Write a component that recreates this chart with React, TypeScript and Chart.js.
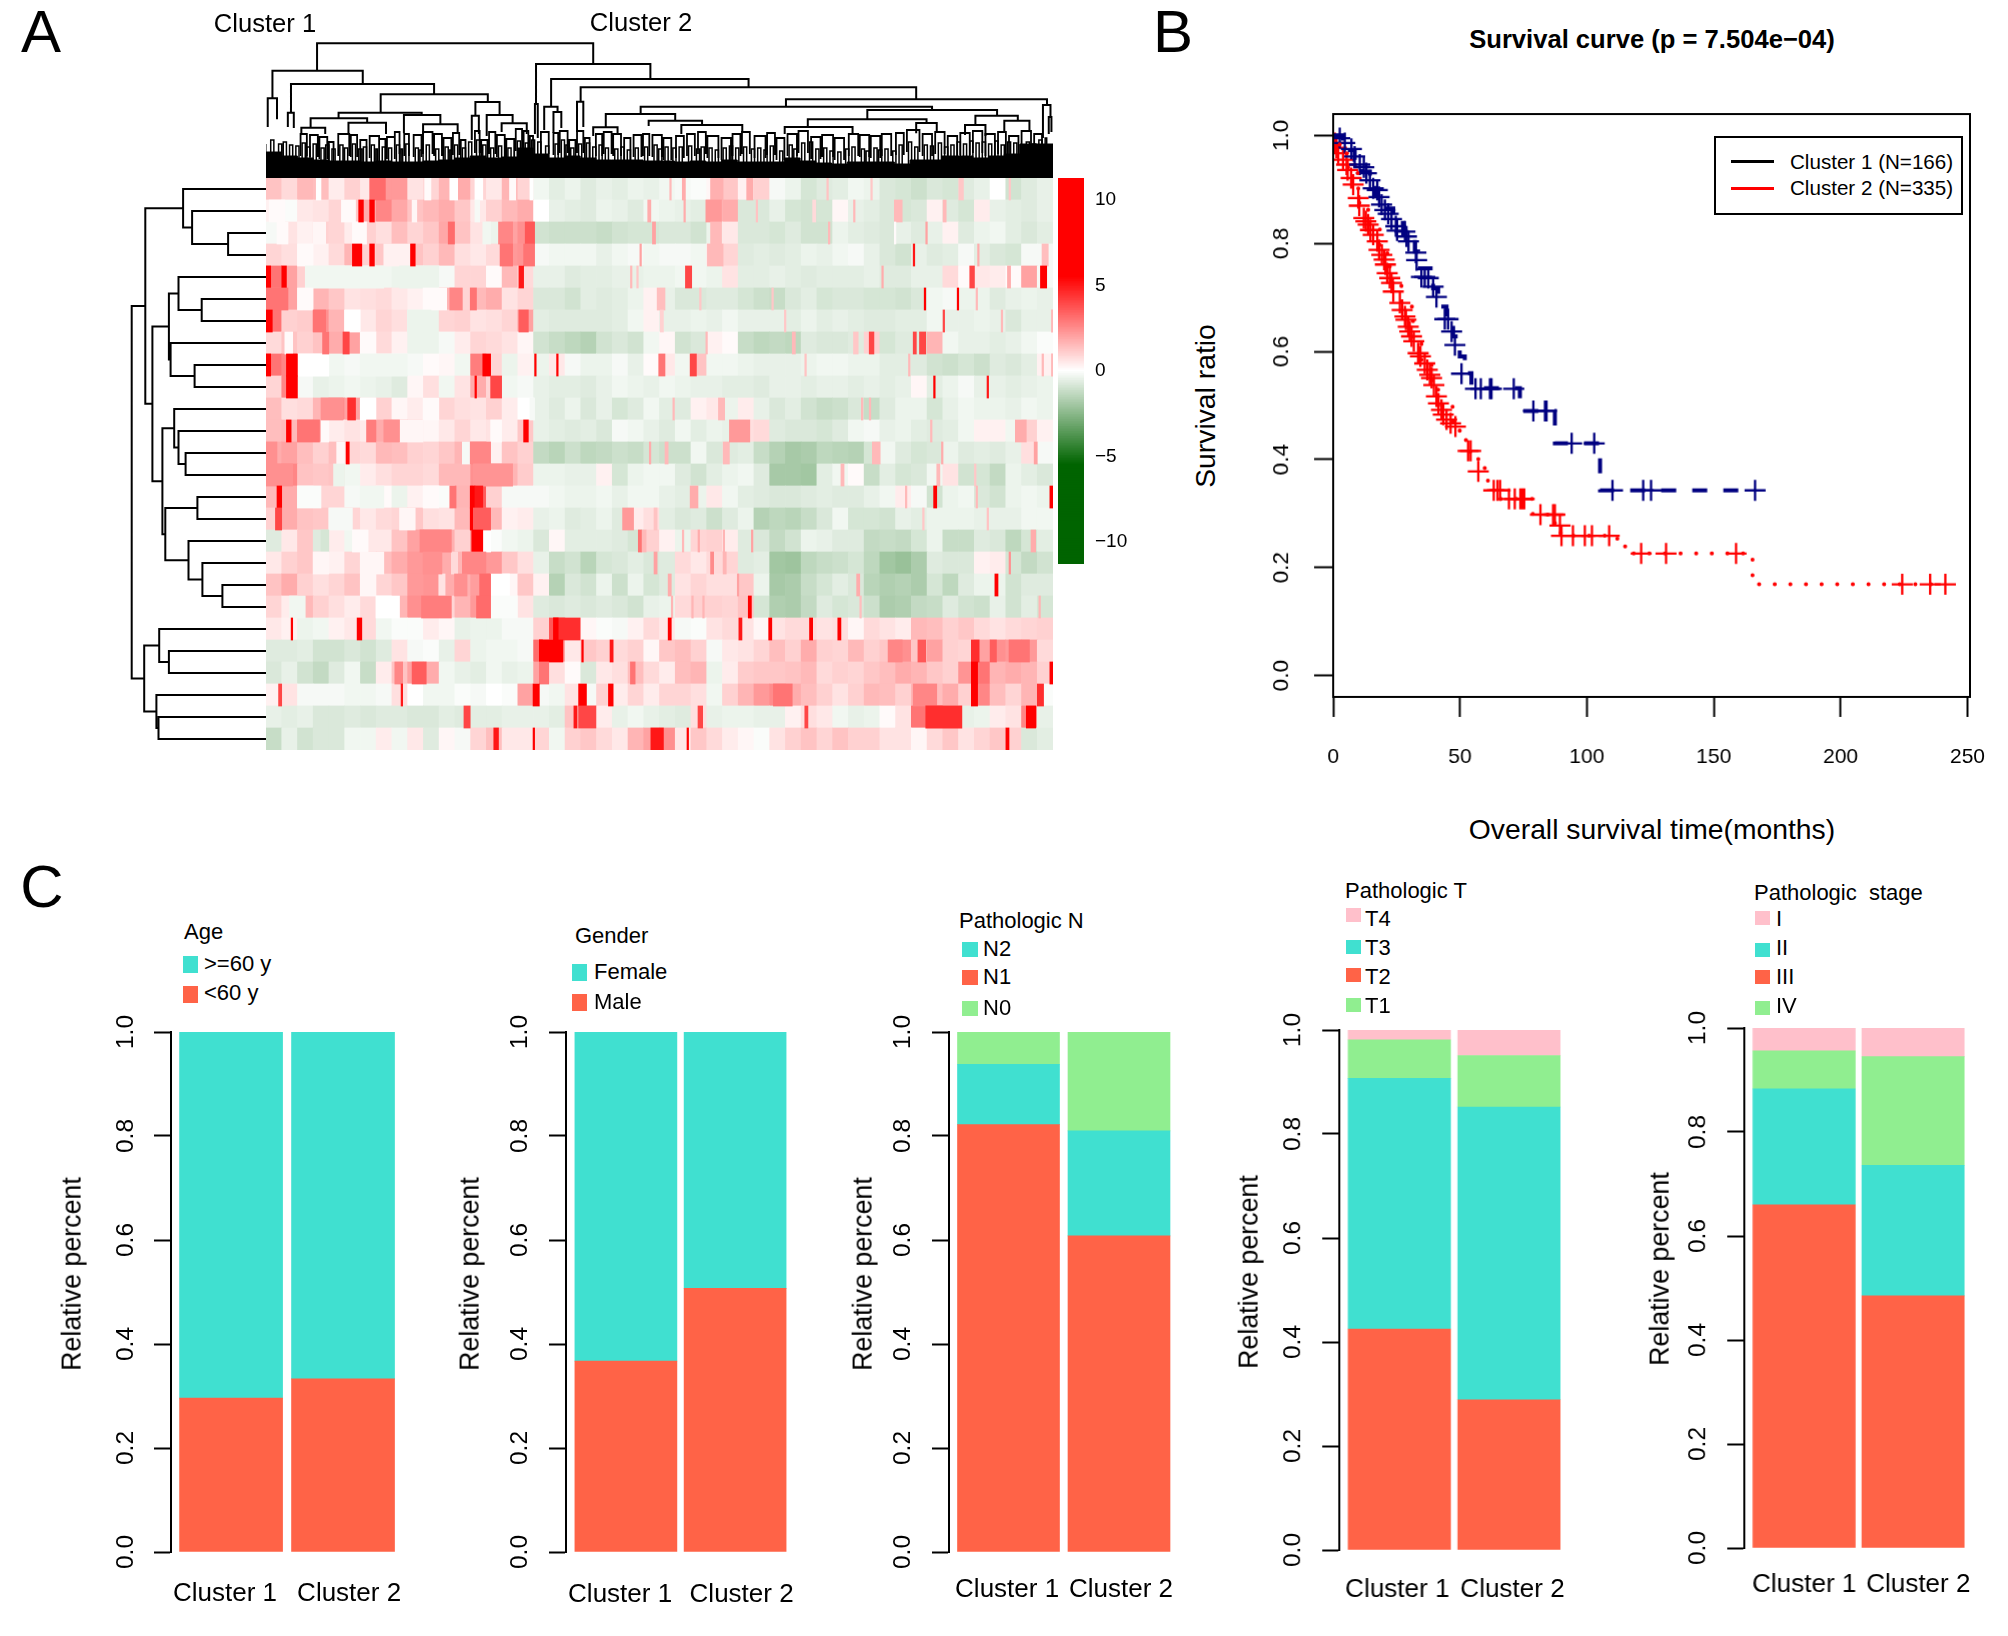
import React, { useEffect, useRef } from "react";
import { Chart, registerables } from "chart.js";
Chart.register(...registerables);
Chart.defaults.font.family = "'Liberation Sans', Arial, sans-serif";
Chart.defaults.color = "#000";

const FONT = "'Liberation Sans', Arial, sans-serif";
const TURQ = "#40E0D0", TOMATO = "#FF6347", LGREEN = "#90EE90", PINK = "#FFC0CB";

/* ---------- heat map: 26 genes, 50 column groups (about 10 samples each) ---------- */
const heatRows: number[][] = [
[1.3,0.8,1.5,1.4,0.4,1.0,0.5,2.2,2.2,0.6,0.9,1.6,1.8,0.9,0.5,1.6,0.9,-0.3,-0.6,-0.4,-0.7,-0.5,-0.6,-0.4,-0.5,-0.3,-0.2,-0.1,0.2,1.2,0.3,1.0,-0.2,-0.4,-0.9,-0.7,-0.6,-0.3,-0.4,-0.8,-0.9,-1.1,-0.8,-0.9,-0.7,-0.5,0.0,-1.0,-0.7,-0.5],
[0.3,-0.1,0.5,0.6,0.9,1.2,1.8,2.6,1.9,1.3,1.5,1.8,1.2,0.5,1.0,1.5,1.8,0.0,-0.5,-0.6,-0.7,-0.4,-0.5,-0.7,-0.3,-0.4,-0.5,-0.6,1.2,1.8,-0.8,-0.8,-0.5,-0.9,-1.0,-0.9,0.2,-0.5,-0.6,-0.8,-0.9,-0.8,0.3,-0.7,-0.9,0.4,-0.5,-0.6,-0.7,-0.5],
[-0.2,0.6,0.3,1.0,0.9,0.4,1.0,0.7,1.4,0.9,1.2,1.9,1.3,0.6,-0.4,2.0,2.4,-1.0,-1.1,-1.1,-1.1,-1.2,-1.0,-0.9,-0.9,-0.8,-0.8,-1.0,-0.4,0.5,-0.8,-0.8,-0.9,-0.7,-1.0,-1.0,-0.4,-0.6,-0.7,-0.8,-0.5,-0.7,-0.5,0.3,-0.7,-0.4,-0.3,-0.6,-0.8,-0.6],
[0.9,0.7,0.2,0.3,0.8,1.6,1.0,1.2,1.6,1.3,1.0,1.5,0.7,0.5,0.8,2.2,2.3,-0.2,-0.3,-0.3,-0.3,-0.5,-0.3,-0.2,-0.3,-0.2,-0.2,-0.3,0.5,0.9,-0.7,-0.6,-0.7,-0.6,-0.4,-0.5,-0.3,-0.2,-0.5,-0.8,-1.0,-0.5,-0.7,-0.6,-0.2,-0.6,-0.8,-0.9,-0.2,-0.2],
[3.0,2.0,1.0,0.3,-0.1,-0.2,-0.3,-0.3,-0.4,-0.2,-0.3,-0.2,0.9,0.9,0.1,1.5,0.8,-0.5,-0.5,-0.7,-0.6,-0.6,-0.5,-0.5,-0.4,-0.4,-0.3,-0.3,-0.4,0.6,-0.6,-0.6,-0.5,-0.6,-0.7,-0.6,-0.6,-0.6,-0.5,-0.7,-0.7,-0.5,-0.5,0.8,0.1,0.5,0.4,0.1,2.0,-0.2],
[2.5,2.0,1.0,1.6,1.2,0.6,0.7,0.8,0.5,0.3,-0.4,1.6,0.9,1.5,1.8,0.6,0.9,-0.8,-0.8,-1.0,-0.6,-0.7,-0.6,-0.4,0.3,-0.5,-0.8,-0.8,-0.7,-0.7,-0.9,-1.1,-1.2,-0.8,-0.6,-0.9,-0.8,-0.8,-0.9,-0.9,-1.0,-0.8,-0.3,-0.2,-0.4,-0.4,-0.7,-0.5,-0.4,-0.5],
[3.0,1.0,1.1,2.4,1.6,0.3,0.5,0.9,0.7,-0.2,-0.4,0.9,1.0,0.6,0.7,0.9,2.0,-0.6,-0.7,-0.7,-0.7,-0.7,-0.6,-0.3,0.3,-0.5,-0.5,-0.4,-0.5,-0.3,-0.5,-0.5,-0.5,-0.6,-0.4,-0.6,-0.5,-0.6,-0.7,-0.7,-0.6,-0.6,-0.3,-0.5,-0.5,-0.4,-0.5,-0.8,-0.5,-0.5],
[0.8,1.3,1.0,1.3,1.8,2.0,0.6,0.8,0.3,-0.4,-0.4,-0.2,0.4,0.9,0.8,0.6,0.2,-1.0,-1.2,-1.4,-1.6,-1.0,-0.8,-1.0,-0.3,0.2,-1.0,-0.8,0.3,0.1,-1.2,-1.4,-1.3,-1.4,-0.7,-0.8,-0.8,-0.7,1.0,-0.9,-0.7,-0.7,1.6,-0.3,-0.5,-0.5,-0.6,-0.5,-0.3,-0.1],
[3.0,2.6,0.6,0.4,-0.3,-0.2,-0.4,0.3,-0.1,-0.2,0.1,0.2,-0.3,2.8,0.9,-0.4,0.3,-0.4,0.5,-0.2,-0.4,-0.4,-0.2,-0.5,0.1,0.5,-0.3,1.3,-0.3,-0.3,-0.4,-0.5,-0.5,-0.5,-0.4,-0.3,-0.3,-0.4,-0.4,-0.6,-0.6,-0.7,-1.0,-1.1,-0.9,-1.1,-0.7,-0.8,-0.6,0.3],
[0.9,2.6,-0.2,-0.5,-0.4,-0.3,-0.4,-0.5,-0.7,0.2,0.7,-0.3,0.6,1.8,0.9,-0.3,-0.2,-0.5,-0.6,-0.6,-0.7,-0.5,-0.3,-0.4,-0.5,-0.3,-0.4,-0.5,-0.5,-0.6,-0.6,-0.7,-0.5,-0.5,-0.6,-0.5,-0.5,-0.6,-0.5,-0.6,-0.5,0.2,-0.6,-0.4,-0.2,-0.5,-0.5,-0.6,-0.5,-0.4],
[1.4,0.7,0.8,1.6,2.5,2.0,0.5,1.0,0.2,0.4,1.1,0.9,0.7,0.6,1.0,0.4,0.0,-0.5,-0.7,-0.4,-0.8,-0.5,-0.9,-0.7,-0.3,-0.6,-0.7,0.3,0.5,-0.4,0.4,-0.5,-0.8,-0.6,-1.0,-1.2,-1.1,-0.8,-1.2,-0.7,-0.4,-0.4,-0.9,-0.5,-0.3,-0.4,-0.4,-0.5,-0.3,-0.4],
[1.4,1.5,2.4,2.2,0.4,0.6,0.4,1.8,1.8,1.2,0.2,0.5,0.9,0.5,0.6,0.4,1.2,-0.5,-0.6,-0.7,-0.6,-0.8,-0.2,-0.3,-0.5,-0.7,-0.3,-0.6,-0.4,-0.5,0.7,0.8,-0.7,-0.8,-0.8,-0.9,-0.7,-0.3,-0.2,-0.5,-0.4,-0.6,-0.7,-0.6,-0.3,0.3,0.3,-0.3,1.0,0.3],
[1.8,2.0,1.4,1.0,1.4,0.9,0.8,1.5,1.4,1.0,0.9,1.2,1.6,2.3,0.3,1.3,1.0,-1.3,-1.5,-1.1,-1.4,-1.3,-1.1,-1.2,-0.9,-1.1,-1.1,-0.3,-0.8,-0.7,-0.6,-1.2,-1.6,-1.9,-1.8,-1.4,-1.5,-1.6,-0.9,-0.3,-0.7,-0.9,-0.8,-0.4,-0.7,-0.6,-0.7,-0.5,0.7,-0.2],
[2.4,2.6,1.3,1.2,1.3,-0.3,0.4,0.7,0.9,0.9,0.8,1.5,1.5,2.4,2.0,1.6,1.1,-0.4,-0.4,-0.5,-0.5,0.3,-0.9,-0.4,-0.3,-0.3,-0.7,-1.0,-0.6,-0.4,-0.3,-0.7,-1.9,-1.9,-2.0,-0.6,-0.3,0.1,-1.2,-0.6,-0.9,-0.8,-0.3,0.6,-1.0,-0.9,-1.3,-0.4,-0.6,-0.8],
[1.5,1.8,0.3,0.9,0.9,-0.2,0.5,0.1,-0.4,0.3,0.0,-0.1,1.6,3.5,1.0,-0.2,-0.2,-0.2,-0.3,-0.4,-0.4,-0.3,-0.5,-0.3,-0.3,-0.5,-0.6,-0.4,0.5,-0.3,-0.6,-0.7,-0.8,-0.8,-0.7,-0.6,-0.7,-0.7,-0.5,-0.3,0.4,-0.2,-1.0,-0.4,-0.3,-0.8,-1.0,-0.4,-0.3,-0.4],
[1.0,1.8,1.3,1.2,0.5,0.9,0.5,0.8,0.9,1.2,0.7,0.6,1.5,3.0,1.5,0.3,0.4,-0.5,-0.4,-0.7,-0.6,-0.4,-0.7,0.4,0.7,-0.6,-0.8,-0.7,-1.1,-0.7,-0.4,-1.6,-1.4,-1.5,-1.2,-0.8,-0.3,-0.9,-0.9,-1.0,-0.5,-0.6,-0.4,-0.4,-0.4,-0.5,-0.5,-0.5,-0.3,-0.3],
[-0.7,0.5,1.2,-0.7,0.4,-0.3,0.5,0.5,1.3,2.0,2.2,1.7,1.0,2.5,-0.1,-0.3,-0.4,-0.8,0.2,-0.6,-0.6,-0.6,-0.7,-0.9,1.0,0.3,-0.4,0.9,1.0,0.4,-0.7,-0.8,-1.3,-1.0,-0.4,-0.5,-0.7,-0.7,-1.3,-1.2,-1.3,-0.9,-0.4,-1.2,-1.2,-0.7,-0.8,-1.4,-0.9,-0.6],
[0.5,1.0,1.2,0.8,0.3,0.9,1.2,1.4,1.8,2.2,2.0,1.8,1.6,2.0,2.2,1.2,0.7,-0.5,-1.2,-1.0,-1.5,-0.9,-0.8,-0.6,-0.8,-0.7,0.8,0.5,0.8,0.9,-0.7,-0.6,-2.0,-2.1,-1.4,-1.2,-1.1,-0.9,-1.4,-2.0,-2.2,-1.8,-0.7,-0.8,-0.8,0.3,0.4,-0.9,-1.3,-1.0],
[1.3,1.8,1.0,0.7,0.9,1.3,0.5,0.9,1.2,2.2,2.3,1.8,1.7,2.1,2.8,0.2,1.2,0.3,-1.6,-0.8,-1.0,-0.4,-1.1,-0.4,-0.9,-0.7,0.6,0.9,0.7,0.7,1.2,-0.4,-1.9,-1.8,-1.2,-0.9,-0.6,-0.8,-1.5,-1.7,-1.6,-1.8,-0.9,-1.4,-0.7,-0.4,-0.4,-1.0,-0.7,-0.7],
[0.9,0.4,1.5,1.0,0.7,0.4,0.8,0.2,1.6,2.4,2.3,0.9,1.6,2.2,0.3,0.2,0.6,-0.7,-0.8,-0.7,-0.8,-0.7,-0.8,-1.0,-0.5,-0.4,0.8,1.0,1.0,0.9,1.3,-0.9,-1.7,-1.8,-1.3,-0.7,-0.9,-0.8,-1.1,-1.8,-1.7,-1.3,-1.2,-0.7,-1.0,-1.1,-0.5,-1.0,-0.6,-0.9],
[0.5,0.3,-0.4,-0.3,0.3,0.5,0.8,-0.3,-0.1,-0.1,0.4,0.2,-0.5,-0.4,-0.4,-0.2,-0.2,1.0,3.6,0.6,0.2,-0.1,-0.2,0.3,0.8,0.5,-0.2,-0.1,0.6,0.8,0.6,0.2,0.6,0.8,0.8,0.6,0.7,0.2,0.8,0.6,0.4,1.5,1.4,1.0,1.2,0.8,0.6,0.8,0.9,1.0],
[-0.7,-0.7,-0.6,-1.0,-1.0,-0.8,-1.0,-0.7,0.6,-0.2,-0.1,-0.5,0.9,-0.4,-0.3,-0.3,-0.2,3.2,2.4,0.5,1.2,1.0,0.8,1.0,0.2,1.2,1.4,1.0,-0.2,0.5,0.6,0.9,1.4,1.0,1.8,1.0,0.9,1.5,1.0,1.2,2.4,1.2,2.0,1.0,0.9,2.0,2.4,2.2,2.2,0.8],
[-0.8,-0.5,-1.0,-1.3,-0.7,-0.3,-1.2,0.4,1.3,2.0,1.8,-0.3,-0.5,-0.6,-0.3,-0.5,-0.4,2.0,0.7,0.1,-0.8,0.5,0.7,1.4,0.8,0.4,1.4,1.6,-0.4,0.4,1.1,1.2,1.2,1.3,1.5,0.8,1.0,0.9,1.2,1.4,1.8,1.6,1.2,1.0,2.3,3.0,1.6,1.8,1.6,1.0],
[0.3,0.6,-0.2,-0.2,-0.2,-0.3,-0.3,-0.2,0.7,0.0,-0.3,-0.3,-0.1,-0.2,0.0,-0.1,2.0,-0.2,-0.3,0.6,-0.2,1.0,0.4,0.9,0.4,0.9,0.9,0.7,-0.3,1.0,1.6,2.2,2.5,1.8,1.4,1.0,0.6,1.0,1.5,1.4,1.0,1.6,1.4,1.8,1.0,2.6,1.4,0.9,1.6,-0.1],
[-0.5,-0.6,-0.5,-0.8,-0.8,-0.7,-0.8,-0.7,-0.7,-0.8,-0.8,-0.6,-0.7,-0.6,-0.6,-0.5,-0.5,-0.5,-0.6,1.3,2.0,0.4,-0.5,-0.3,-0.5,-0.6,-0.7,0.7,-0.5,-0.4,-0.4,-0.5,-0.5,0.3,0.7,0.5,-0.3,-0.5,-0.4,0.1,0.6,3.0,3.2,-0.5,-0.5,-0.4,0.4,0.6,2.6,-0.5],
[-1.2,-0.5,-1.0,-0.8,-0.8,-0.3,-0.3,0.4,-0.3,0.5,-0.7,0.2,-0.2,0.9,1.4,0.5,0.5,0.9,-0.3,1.0,1.2,0.8,0.5,1.6,2.0,2.4,0.5,1.2,0.8,0.4,0.2,-0.1,0.6,1.0,1.3,0.9,1.3,1.0,1.0,0.6,0.6,0.2,0.8,1.2,0.6,0.9,1.2,1.0,-0.8,-0.6],
];
// pale gaps and thin pink lines: [gene row, first sample, last sample, value]
const heatFineStripes: number[][] = [
[1,32,35,0],[1,101,105,0.1],[1,117,122,0],[1,133,138,0],[1,155,159,0.1],[1,168,170,0],[1,257,258,1.5],[1,265,267,1.8],[1,283,291,1.7],[1,306,310,1.8],[1,357,358,1.3],[1,385,386,1.2],[1,441,444,1.2],[1,473,474,1.2],
[2,2,12,0.1],[2,48,57,0.1],[2,93,96,0.2],[2,133,136,-0.2],[2,243,245,1.8],[2,266,267,1.8],[2,280,290,2.2],[2,312,313,1.3],[2,348,350,0.8],[2,374,375,1.5],[2,400,405,1.5],[2,431,433,1.5],
[3,7,14,0.1],[3,30,38,0.2],[3,55,64,0.1],[3,138,143,-0.3],[3,246,248,2],[3,283,290,1.5],[3,358,359,1.5],[3,400,401,0.1],[3,420,421,2],
[4,20,30,0.1],[4,75,92,0.3],[4,238,239,2],[4,281,291,1.5],[4,412,413,5],[4,453,454,1.8],[4,494,498,1.4],
[5,25,75,-0.3],[5,85,110,-0.4],[5,232,233,1.5],[5,236,237,1.2],[5,392,393,1.8],[5,472,474,1.8],
[6,20,30,0.1],[6,100,115,0.1],[6,249,254,1.4],[6,276,277,1.2],[6,322,323,1.2],[6,452,453,1.5],
[7,50,60,0],[7,90,105,-0.4],[7,251,253,1],[7,330,331,1.2],[7,468,469,1.5],[7,500,501,1.5],
[8,12,17,0.1],[8,60,70,0.1],[8,280,281,1.5],[8,335,337,1.5],[8,374,377,1.2],
[9,20,40,0],[9,60,90,-0.3],[9,343,344,1.3],[9,409,410,1.5],[9,494,495,1.5],[9,500,501,1.5],
[11,60,70,0],[11,100,110,0.1],[11,168,171,-0.2],[11,259,260,1.5],[11,288,292,1.5],[11,379,380,1.5],[11,384,385,1.5],
[12,35,40,0.1],[12,85,100,0.2],[12,143,150,0.1],[12,423,424,1.5],[12,477,484,1.8],
[13,45,50,0.2],[13,125,130,-0.2],[13,244,245,1.8],[13,254,256,1.5],[13,291,295,1.5],[13,386,391,1.5],[13,430,431,1.8],[13,489,491,2],
[14,43,50,-0.4],[14,366,368,1.5],[14,427,429,1.5],[14,451,452,1.2],
[15,20,35,-0.1],[15,60,75,-0.3],[15,100,110,0.1],[15,270,275,1.8],[15,407,408,1.5],[15,452,453,1.5],
[16,40,55,-0.2],[16,85,95,0.2],[16,247,249,1.3],[16,418,419,1.2],[16,459,460,1.3],
[17,35,40,-0.9],[17,55,65,0.1],[17,138,143,0.0],[17,239,242,1.5],[17,265,266,1.5],[17,275,276,1.8],[17,291,292,1.6],[17,309,310,2],[17,487,490,1.8],
[18,30,40,0.2],[18,60,75,0.2],[18,118,122,0.8],[18,247,249,2],[18,283,285,2.5],[18,291,293,1.6],[18,473,474,2.4],
[19,60,70,0.2],[19,110,114,0.6],[19,143,155,0],[19,256,258,1.8],[19,300,301,2],[19,376,378,1.8],
[20,15,25,-0.3],[20,70,85,0],[20,143,160,-0.1],[20,258,259,1.6],[20,271,272,1.6],[20,278,279,1.6],[20,378,379,1.4],[20,492,493,1.6],
];
// stronger stripes: [gene row, first sample, last sample, value]
const heatStripes: number[][] = [
[1,66,76,3.2],[2,59,62,6],[2,66,69,10],[3,116,120,3.2],[3,148,157,2.6],[3,165,171,3.6],
[4,55,61,6.5],[4,66,69,6],[4,92,95,6],[4,149,157,3],[4,164,171,3],
[5,0,3,7],[5,10,13,7],[5,161,164,5],[5,267,271,4],[5,448,451,4],[5,493,497,10],
[6,0,14,3],[6,117,125,2.6],[6,130,134,3],[6,419,420,7],[6,440,441,6],
[7,0,4,10],[7,30,38,3],[7,161,167,3.5],[7,431,432,4],
[8,36,40,3],[8,49,53,4],[8,384,387,4],[8,412,414,4],[8,416,420,4],
[9,0,3,9],[9,13,20,7],[9,138,143,8],[9,171,172,8],[9,185,186,7],[9,250,254,3],[9,270,274,4],
[10,13,20,8],[10,133,134,6],[10,143,150,4],[10,425,426,8],[10,459,460,5],
[11,35,49,2.4],[11,52,57,4.5],
[12,13,16,6],[12,20,34,3],[12,64,70,2.8],[12,75,85,2.4],[12,164,167,6],[12,295,308,2.2],
[13,0,7,2.4],[13,51,53,6],[13,130,143,2.6],
[14,0,17,2.4],[14,132,157,2.3],
[15,7,10,7],[15,117,121,3],[15,130,133,10],[15,133,138,5],[15,425,427,6],[15,499,501,9],
[16,6,10,4],[16,130,132,9],[16,132,143,3.5],[16,227,234,2.2],
[17,98,118,2.6],[17,131,138,6],[17,237,239,3],
[18,100,112,2.4],[18,125,140,2.6],[19,120,128,2.4],[19,136,143,3.2],[19,464,466,6],
[20,99,118,2.8],[20,134,143,3.2],[20,307,309,6],
[21,16,17,7],[21,58,61,6],[21,183,200,4.5],[21,183,186,9],[21,256,258,6],[21,301,303,5],[21,320,322,8],[21,346,348,7],[21,364,366,6],
[22,174,189,5.5],[22,174,176,10],[22,201,202,9],[22,219,221,5],[22,396,405,2.6],[22,415,420,3.6],[22,449,454,4.5],[22,461,465,3.5],[22,473,486,3],
[23,82,87,2.6],[23,93,102,3.5],[23,174,180,3],[23,232,235,3],[23,449,453,6.5],[23,499,501,7],
[24,8,10,4],[24,86,87,5],[24,170,174,10],[24,199,204,7],[24,218,221,8],[24,323,335,3],[24,412,427,2.6],[24,449,453,8],[24,491,495,4.5],
[25,126,130,4],[25,196,198,5],[25,199,210,4],[25,275,278,4],[25,343,345,4],[25,420,443,4.5],[25,484,490,5.5],
[26,145,148,5],[26,170,171,7],[26,245,253,5],[26,268,269,6],[26,471,473,7],
];
const SAMPLES = 501;

/* ---------- row dendrogram: [merge height, left, right], leaves are gene rows ---------- */
const rowTree: any = [134.3,
  [120.7, [82.9, 1, [73.9, 2, [37.9, 3, 4]]],
    [113.6,
      [97.1, [87.5, 5, [64.3, 6, 7]], [95.4, 8, [71.4, 9, 10]]],
      [103.6, [91.8, 11, [87.5, 12, [80.4, 13, 14]]],
        [100.7, [68.6, 15, 16], [77.5, 17, [63.6, 18, [43.6, 19, 20]]]]]]],
  [121.8, [106.8, 21, [97.1, 22, 23]], [109.6, 24, [107.5, 25, 26]]]];

/* ---------- column dendrogram: [left sample, right sample, merge height, left leg end, right leg end] ---------- */
const colTreeUpper: number[][] = [
[32.5,208.3,134.7,107.3,114],[4.1,61.6,107.3,79.7,94],[1.1,7,79.7,51,58.7],[15.9,107,94,65.3,83.7],[13.9,17.7,65.3,51,50],
[73,141.2,83.7,65.3,76],[46.2,99.1,65.3,59.7,63],[28.4,64.4,59.7,50.3,55.3],[22.5,37.7,50.3,44,44],[52.5,76.4,55.3,44,44],
[87.8,111,63,44.7,53.7],[100,122,53.7,44,44],[133.3,148.7,76,62.3,63],[131,135.5,62.3,38,44],[140.5,157,63,42,54.7],[150,166,54.7,46,44],
[171.9,244.7,114,74,99],[171.2,173,74,44,40],[181.5,307.2,99,71.3,90.7],[177.1,185.6,71.3,48,66],[183,188,66,45,50],
[200.3,413.9,90.7,76.3,78.7],[198,202,76.3,46,51],[331,497.2,78.7,71.3,73],[238.5,424,71.3,64,68],[216.3,260.5,64,50.7,57.3],
[208.3,223.8,50.7,42,44],[243.6,277.6,57.3,52,53],[264.4,303.2,53,44,46],[382.8,465.4,68,58.7,62.3],[344.9,420.5,58.7,51,55],
[330.2,373.4,51,44,45],[413.9,427,55,44.7,45.3],[451.6,478.6,62.3,53,57.3],[445,458,53,43,42],[470,486,57.3,45,47],
[494.6,499.4,73,40,61],[498.3,500,61,44,46],
];
const colTreeLower: number[][] = [
[22,26,44],[28,33,43],[34,39,41],[40,43,36],[46,53,44],[54,58,43],[60,64,38],[66,72,42],[72,76,39],[77,82,41],[82,85,46],[88,91,44],[94,99,43],[100,106,46],[107,112,44],[113,118,40],[119,123,45],[124,127,38],[133,136,47],[137,141,38],[142,146,46],[147,152,43],[153,158,39],[159,163,49],[164,167,47],[168,170,42],
[175,180,46],[183,186,45],[187,192,47],[193,197,38],[198,202,47],[203,206,40],[210,214,44],[215,220,46],[221,226,44],[228,232,40],[234,239,43],[240,244,44],[246,252,43],[253,258,40],[261,266,42],[268,273,44],[275,280,46],[281,288,42],[290,296,40],[297,302,44],[303,308,46],[311,318,42],[319,324,45],[325,330,40],[332,338,44],[339,345,47],[347,353,41],[354,361,43],[362,368,40],[371,377,44],[378,384,43],[385,391,42],[392,398,44],[401,406,45],[408,416,48],[418,424,44],[426,432,46],[434,440,42],[442,448,45],[450,456,47],[458,464,44],[466,471,46],[473,479,42],[481,487,47],[489,494,44],
];
// lowest visible merges, just above the solid mass: [left sample, right sample, height]
const colTreeTwigs: number[][] = [
[3,5,38],[8,10,34],[11,13,36],[15,17,33],[19,21,32],[23,25,35],[26,28,31],[30,32,34],[35,37,30],[38,40,33],[42,44,29],[47,49,33],[50,52,30],[55,57,34],[59,61,29],[62,64,31],[67,69,33],[70,71,29],[74,76,31],[78,80,30],[83,85,33],[86,87,29],[89,91,34],[95,97,30],[98,100,28],[102,104,33],[108,110,29],[114,116,31],[117,118,28],[120,122,33],[125,127,30],[129,131,36],[134,136,38],[138,140,33],[143,145,30],[148,150,32],[154,156,30],[160,162,37],[165,167,35],[169,171,38],
[173,175,36],[178,180,32],[184,186,34],[188,190,38],[191,193,33],[194,196,30],[199,201,34],[204,206,35],[208,210,31],[212,214,33],[216,218,30],[222,224,29],[226,228,31],[230,232,28],[235,237,30],[241,243,31],[247,249,33],[250,252,29],[254,256,31],[259,261,30],[263,265,31],[269,271,32],[274,276,29],[277,279,31],[282,284,30],[286,288,28],[291,293,30],[295,297,32],[299,301,30],[304,306,31],[309,311,29],[313,315,30],[317,319,28],[321,323,32],[327,329,27],[333,335,33],[336,338,29],[341,343,35],[346,348,36],[350,352,29],[355,357,30],[359,361,27],[364,366,26],[369,371,29],[373,375,31],[379,381,29],[382,384,27],[387,389,30],[390,392,28],[394,396,29],[399,401,27],[403,405,33],[409,411,36],[413,415,31],[419,421,33],[423,425,32],[428,430,35],[432,434,31],[436,438,33],[440,442,36],[444,446,34],[448,450,37],[452,454,35],[456,458,36],[460,462,34],[464,466,37],[468,470,33],[472,474,36],[476,478,35],[480,482,33],[484,486,36],[488,490,34],[492,494,38],[496,497,40],
];
// height of the solid mass of leaf branches, per 10 samples
const leafMass = [34,26,22,20,18,17,17,16,17,16,16,17,18,20,22,20,21,30,24,20,22,20,18,18,18,17,17,16,17,16,18,16,16,16,20,17,15,14,16,16,16,14,18,18,22,22,20,22,24,34];

/* ---------- survival curves ---------- */
const navySteps = [[0,1],[3.9,.989],[6.6,.973],[8.5,.955],[11.2,.933],[14.5,.915],[16.8,.887],[19.7,.865],[23.7,.838],[27.6,.81],[32.2,.785],[33.5,.754],[39.4,.717],[41.4,.683],[44.7,.662],[47.3,.628],[49.9,.591],[51.9,.56],[54.5,.532],[73.6,.49],[87.4,.43],[105.2,.343],[166.4,.343]];
const navyCensored = [[2.6,.995],[4.6,.986],[7.2,.975],[8.5,.961],[10.5,.946],[12.1,.941],[13.1,.93],[14.5,.917],[15.8,.902],[17.4,.899],[18.1,.886],[19.1,.872],[20.4,.862],[21.7,.855],[23,.845],[24.7,.832],[25.2,.824],[28.3,.822],[28.9,.813],[29.7,.804],[32.6,.783],[32.9,.769],[34.8,.738],[36.1,.738],[37.5,.736],[39.4,.72],[40.7,.701],[44,.66],[45.3,.66],[46.7,.637],[48,.612],[50.6,.559],[56.1,.531],[58.2,.531],[61.8,.531],[62.4,.531],[71.2,.531],[78.9,.49],[83.5,.49],[84.1,.49],[94,.43],[102.9,.43],[110.1,.343],[122.2,.343],[125.3,.343],[166.3,.343]];
const redSteps = [[0,1],[2.6,.967],[5.9,.93],[9.9,.875],[13.8,.835],[18.4,.782],[22.3,.733],[26.9,.683],[31.5,.622],[34.8,.585],[38.8,.535],[41.4,.498],[47.3,.461],[49.9,.436],[52.6,.415],[57.2,.384],[59.8,.365],[61,.343],[64,.327],[78.7,.298],[87.4,.278],[89.7,.259],[112,.239],[115.3,.226],[165.3,.169],[241.3,.169]];
const redCensored = [[.7,.986],[1.3,.977],[2,.967],[3.9,.955],[5.3,.946],[5.7,.936],[7.1,.921],[7.9,.909],[9.9,.884],[10.3,.87],[12.1,.847],[12.9,.841],[13.8,.835],[14.7,.825],[15.8,.816],[17.4,.804],[18.1,.788],[19.2,.779],[20.1,.77],[20.6,.761],[21.3,.745],[22.3,.736],[23,.727],[23.7,.711],[26.3,.69],[27.2,.677],[28.3,.665],[28.7,.659],[29.6,.646],[30.2,.637],[30.9,.628],[31.8,.619],[33.5,.597],[34.4,.591],[36.1,.578],[37.1,.566],[38.1,.557],[38.8,.551],[39.7,.538],[40.7,.517],[41.5,.504],[42.7,.492],[43.4,.483],[44.7,.474],[46.3,.467],[48.2,.461],[53.2,.416],[54.2,.416],[57.2,.378],[63.3,.343],[64.8,.343],[65.8,.343],[69.3,.327],[71.6,.327],[73.8,.327],[74.6,.327],[75.3,.327],[81.7,.298],[86.7,.298],[87.4,.298],[89.4,.278],[90,.259],[94.5,.259],[99.2,.259],[102,.259],[108.8,.259],[121.4,.226],[131.2,.226],[158.8,.226],[224.3,.169],[235.3,.169],[241.3,.169]];
const survivalXTicks = [0, 50, 100, 150, 200, 250];
const survivalYTicks = [0, 0.2, 0.4, 0.6, 0.8, 1];
const survivalLegend = ["Cluster 1 (N=166)", "Cluster 2 (N=335)"];

/* ---------- stacked bars ---------- */
const clusterNames = ["Cluster 1", "Cluster 2"];
const percentTicks = [0, 0.2, 0.4, 0.6, 0.8, 1];
const ageBelow60 = [0.296, 0.333], ageAbove60 = [0.704, 0.667];
const genderMale = [0.367, 0.507], genderFemale = [0.633, 0.493];
const nN1 = [0.822, 0.608], nN2 = [0.116, 0.202], nN0 = [0.062, 0.19];
const tT2 = [0.425, 0.289], tT3 = [0.482, 0.563], tT1 = [0.074, 0.099], tT4 = [0.019, 0.049];
const stageIII = [0.66, 0.485], stageII = [0.223, 0.251], stageIV = [0.073, 0.209], stageI = [0.044, 0.055];

type Panel = {
  axisX: number; top: number; c1: number; c2: number; w: number; labels: number[]; labelY: number;
  titleX: number; titleY: number; tickX: number;
  stacks: { name: string; color: string; values: number[] }[];
  legendTitle: string; legendTitleX: number; legendTitleY: number;
  swatchX: number; swatchW: number; swatchH: number; textX: number;
  legend: { name: string; color: string; swatchY: number; textY: number }[];
};
const panels: Panel[] = [
  { axisX: 171.4, top: 1032.3, c1: 231.5, c2: 343.5, w: 103, labels: [225.4, 349.6], labelY: 1593, titleX: 71.7, titleY: 1274, tickX: 126.5,
    stacks: [{ name: "<60 y", color: TOMATO, values: ageBelow60 }, { name: ">=60 y", color: TURQ, values: ageAbove60 }],
    legendTitle: "Age", legendTitleX: 184, legendTitleY: 932, swatchX: 183, swatchW: 15, swatchH: 17, textX: 204,
    legend: [{ name: ">=60 y", color: TURQ, swatchY: 964, textY: 964 }, { name: "<60 y", color: TOMATO, swatchY: 994, textY: 993 }] },
  { axisX: 565.6, top: 1031.7, c1: 625.6, c2: 735, w: 102, labels: [619.8, 741.5], labelY: 1593, titleX: 470, titleY: 1274, tickX: 520,
    stacks: [{ name: "Male", color: TOMATO, values: genderMale }, { name: "Female", color: TURQ, values: genderFemale }],
    legendTitle: "Gender", legendTitleX: 575, legendTitleY: 936, swatchX: 572, swatchW: 15, swatchH: 17, textX: 594,
    legend: [{ name: "Female", color: TURQ, swatchY: 972, textY: 972 }, { name: "Male", color: TOMATO, swatchY: 1002, textY: 1002 }] },
  { axisX: 948.5, top: 1032, c1: 1008, c2: 1118.5, w: 102, labels: [1006.6, 1120.5], labelY: 1588, titleX: 863, titleY: 1274, tickX: 902.5,
    stacks: [{ name: "N1", color: TOMATO, values: nN1 }, { name: "N2", color: TURQ, values: nN2 }, { name: "N0", color: LGREEN, values: nN0 }],
    legendTitle: "Pathologic N", legendTitleX: 959, legendTitleY: 921, swatchX: 962, swatchW: 16, swatchH: 15, textX: 983,
    legend: [{ name: "N2", color: TURQ, swatchY: 949, textY: 949 }, { name: "N1", color: TOMATO, swatchY: 977, textY: 977 }, { name: "N0", color: LGREEN, swatchY: 1008, textY: 1008 }] },
  { axisX: 1339, top: 1030, c1: 1399, c2: 1508.5, w: 102, labels: [1397, 1512], labelY: 1588, titleX: 1248.6, titleY: 1272, tickX: 1293,
    stacks: [{ name: "T2", color: TOMATO, values: tT2 }, { name: "T3", color: TURQ, values: tT3 }, { name: "T1", color: LGREEN, values: tT1 }, { name: "T4", color: PINK, values: tT4 }],
    legendTitle: "Pathologic T", legendTitleX: 1345, legendTitleY: 891, swatchX: 1346, swatchW: 15, swatchH: 14, textX: 1365,
    legend: [{ name: "T4", color: PINK, swatchY: 915, textY: 919 }, { name: "T3", color: TURQ, swatchY: 947, textY: 948 }, { name: "T2", color: TOMATO, swatchY: 975, textY: 977 }, { name: "T1", color: LGREEN, swatchY: 1005, textY: 1006 }] },
  { axisX: 1744, top: 1028.3, c1: 1803.8, c2: 1912.8, w: 102, labels: [1804, 1918], labelY: 1584, titleX: 1660, titleY: 1269, tickX: 1698,
    stacks: [{ name: "III", color: TOMATO, values: stageIII }, { name: "II", color: TURQ, values: stageII }, { name: "IV", color: LGREEN, values: stageIV }, { name: "I", color: PINK, values: stageI }],
    legendTitle: "Pathologic  stage", legendTitleX: 1754, legendTitleY: 893, swatchX: 1755, swatchW: 15, swatchH: 14, textX: 1776,
    legend: [{ name: "I", color: PINK, swatchY: 918, textY: 919 }, { name: "II", color: TURQ, swatchY: 950, textY: 948 }, { name: "III", color: TOMATO, swatchY: 977, textY: 977 }, { name: "IV", color: LGREEN, swatchY: 1008, textY: 1006 }] },
];

/* ---------- helpers ---------- */
function heatColor(v: number) {
  const t = Math.min(1, Math.abs(v) / 5.5);
  if (v >= 0) { const c = Math.round(255 * (1 - t)); return `rgb(255,${c},${c})`; }
  return `rgb(${Math.round(255 * (1 - t))},${Math.round(255 - 155 * t)},${Math.round(255 * (1 - t))})`;
}
const gap = { x: NaN, y: NaN };
function rowTreeSegments(node: any, out: any[]): { y: number; d: number } {
  if (typeof node === "number") return { y: node, d: 0 };
  const l = rowTreeSegments(node[1], out), r = rowTreeSegments(node[2], out);
  out.push({ x: l.d, y: l.y }, { x: node[0], y: l.y }, { x: node[0], y: r.y }, { x: r.d, y: r.y }, gap);
  return { y: (l.y + r.y) / 2, d: node[0] };
}
const noPad = (s: any) => { s.paddingLeft = s.paddingRight = s.paddingTop = s.paddingBottom = 0; };
const baseOpts = { responsive: false, maintainAspectRatio: false, animation: false as const,
  plugins: { legend: { display: false }, tooltip: { enabled: false } }, events: [] as any[] };
const hiddenScale = (min: number, max: number, extra: any = {}) => ({ type: "linear", display: false, min, max, ...extra });

function Plot({ left, top, width, height, config }: any) {
  const ref = useRef<HTMLCanvasElement>(null);
  useEffect(() => {
    const chart = new Chart(ref.current as any, config());
    return () => chart.destroy();
  }, []);
  return <canvas ref={ref} width={width} height={height} style={{ position: "absolute", left, top, width, height, display: "block" }} />;
}
function Txt({ x, y, size, rot, bold, left, children }: any) {
  return <div style={{ position: "absolute", left: x, top: y, fontFamily: FONT, fontSize: size, lineHeight: 1, whiteSpace: "pre", color: "#000",
    fontWeight: bold ? 700 : 400, transform: `translate(${left ? "0" : "-50%"},-50%)${rot ? ` rotate(${rot}deg)` : ""}` }}>{children}</div>;
}

/* ---------- chart configs ---------- */
const heatConfig = () => {
  const rowLabels = heatRows.map((_, i) => `G${i + 1}`);
  const cells: any[] = [];
  heatRows.forEach((row, r) => row.forEach((v, c) => {
    const w = SAMPLES / row.length;
    cells.push({ x: [c * w, (c + 1) * w], y: rowLabels[r], v });
  }));
  [...heatFineStripes, ...heatStripes].forEach(([r, a, b, v]) => cells.push({ x: [a, b], y: rowLabels[r - 1], v }));
  return { type: "bar", data: { labels: rowLabels, datasets: [{ data: cells, barThickness: 22.1, borderWidth: 0,
      backgroundColor: (c: any) => heatColor(c.raw ? c.raw.v : 0) }] },
    options: { ...baseOpts, indexAxis: "y", layout: { padding: 0 },
      scales: { x: hiddenScale(0, SAMPLES), y: { type: "category", display: false } } } };
};
const colTreeConfig = () => {
  const pts: any[] = [];
  colTreeUpper.forEach(([a, b, h, l, r]) => pts.push({ x: a, y: l }, { x: a, y: h }, { x: b, y: h }, { x: b, y: r }, gap));
  const fine: any[] = [];
  colTreeLower.forEach(([a, b, h]) => fine.push({ x: a, y: h - 22 }, { x: a, y: h }, { x: b, y: h }, { x: b, y: h - 22 }, gap));
  const twigs: any[] = [];
  colTreeTwigs.forEach(([a, b, h]) => twigs.push({ x: a, y: 10 }, { x: a, y: h }, { x: b, y: h }, { x: b, y: 10 }, gap));
  const mass = leafMass.map((y, i) => ({ x: i * 10, y }));
  mass.push({ x: SAMPLES, y: leafMass[leafMass.length - 1] });
  return { type: "scatter", data: { datasets: [
      { data: mass, showLine: true, stepped: "after", fill: "origin", backgroundColor: "#000", borderColor: "#000", borderWidth: 1, pointRadius: 0 },
      { data: twigs, showLine: true, spanGaps: false, borderColor: "#000", borderWidth: 1.5, pointRadius: 0 },
      { data: fine, showLine: true, spanGaps: false, borderColor: "#000", borderWidth: 1.8, pointRadius: 0 },
      { data: pts, showLine: true, spanGaps: false, borderColor: "#000", borderWidth: 2, pointRadius: 0 },
    ] },
    options: { ...baseOpts, layout: { padding: 0 }, scales: { x: hiddenScale(0, SAMPLES), y: hiddenScale(0, 142) } } };
};
const rowTreeConfig = () => {
  const pts: any[] = [];
  rowTreeSegments(rowTree, pts);
  return { type: "scatter", data: { datasets: [{ data: pts, showLine: true, spanGaps: false, borderColor: "#000", borderWidth: 2, pointRadius: 0 }] },
    options: { ...baseOpts, layout: { padding: 0 },
      scales: { x: hiddenScale(0, 146, { reverse: true }), y: hiddenScale(0.5, 26.5, { reverse: true }) } } };
};
const keyTicks = [-10, -5, 0, 5, 10];
const keyConfig = () => {
  const lv: number[] = [];
  for (let v = -11.3; v < 11.3; v += 0.1) lv.push(v);
  return { type: "bar", data: { labels: ["key"], datasets: [{ data: lv.map((v) => ({ x: "key", y: [v, v + 0.12], v })), borderWidth: 0,
      barPercentage: 1, categoryPercentage: 1, backgroundColor: (c: any) => heatColor(c.raw ? c.raw.v : 0) }] },
    options: { ...baseOpts, layout: { padding: 0 },
      scales: { x: { type: "category", display: false },
        y: { type: "linear", position: "right", min: -11.29, max: 11.29, grid: { display: false, drawTicks: false }, border: { display: false },
          afterBuildTicks: (s: any) => { s.ticks = keyTicks.map((value) => ({ value })); },
          afterFit: (s: any) => { s.width = 54; noPad(s); },
          ticks: { autoSkip: false, padding: 11, color: "#000", font: { size: 19 }, callback: (v: number) => `${v}`.replace("-", "\u2212") } } } } };
};
const survivalConfig = () => ({
  type: "scatter",
  data: { datasets: [
    { data: navySteps.map(([x, y]) => ({ x, y })), showLine: true, stepped: true, borderColor: "#000080", borderWidth: 4, borderDash: [15, 16], pointRadius: 0 },
    { data: redSteps.map(([x, y]) => ({ x, y })), showLine: true, stepped: true, borderColor: "#ff0000", borderWidth: 4, borderDash: [0.1, 15.5], borderCapStyle: "round", pointRadius: 0 },
    { data: navyCensored.map(([x, y]) => ({ x, y })), pointStyle: "cross", pointRadius: 10.5, pointBorderWidth: 2.3, pointBorderColor: "#000080", showLine: false },
    { data: redCensored.map(([x, y]) => ({ x, y })), pointStyle: "cross", pointRadius: 10.5, pointBorderWidth: 2.3, pointBorderColor: "#ff0000", showLine: false },
  ] },
  options: { ...baseOpts, layout: { padding: { top: 20, right: 30 } },
    scales: {
      x: { type: "linear", min: 0, max: 251, border: { color: "#000", width: 2 }, grid: { drawOnChartArea: false, tickLength: 20, tickWidth: 2, tickColor: "#000" },
        afterBuildTicks: (s: any) => { s.ticks = survivalXTicks.map((value) => ({ value })); },
        afterFit: (s: any) => { s.height = 80; noPad(s); },
        ticks: { autoSkip: false, maxRotation: 0, padding: 28, color: "#000", font: { size: 21 } } },
      y: { type: "linear", min: -0.0394, max: 1.0396, border: { color: "#000", width: 2 }, grid: { drawOnChartArea: false, tickLength: 19, tickWidth: 2, tickColor: "#000" },
        afterBuildTicks: (s: any) => { s.ticks = survivalYTicks.map((value) => ({ value })); },
        afterFit: (s: any) => { s.width = 100; noPad(s); },
        ticks: { autoSkip: false, minRotation: 90, maxRotation: 90, crossAlign: "center", padding: 17, color: "#000", font: { size: 22.5 },
          callback: (v: number) => v.toFixed(1) } } } },
  plugins: [{ id: "box", afterDraw(c: any) { const { left, top, right, bottom } = c.chartArea; const g = c.ctx; g.save(); g.strokeStyle = "#000"; g.lineWidth = 2; g.strokeRect(left, top, right - left, bottom - top); g.restore(); } }],
});
const barConfig = (p: Panel) => () => {
  const d = p.c2 - p.c1;
  return { type: "bar",
    data: { datasets: p.stacks.map((s) => ({ label: s.name, backgroundColor: s.color, borderWidth: 0, barThickness: p.w,
      data: s.values.map((y, x) => ({ x, y })) })) },
    options: { ...baseOpts, layout: { padding: { top: 24 } },
      scales: {
        x: { type: "linear", stacked: true, offset: false, min: -(p.c1 - p.axisX) / d, max: 1 + 62 / d, border: { display: false }, grid: { display: false, drawTicks: false },
          afterBuildTicks: (s: any) => { s.ticks = p.labels.map((px) => ({ value: (px - p.c1) / d })); },
          afterFit: (s: any) => { s.height = 70; noPad(s); },
          ticks: { autoSkip: false, maxRotation: 0, padding: p.labelY - (p.top + 520) - 14, color: "#000", font: { size: 26 }, callback: (_: any, i: number) => clusterNames[i] } },
        y: { type: "linear", stacked: true, min: 0, max: 1, border: { color: "#000", width: 2 },
          grid: { drawOnChartArea: false, tickLength: 17, tickWidth: 2, tickColor: "#000" },
          afterBuildTicks: (s: any) => { s.ticks = percentTicks.map((value) => ({ value })); },
          afterFit: (s: any) => { s.width = 90; noPad(s); },
          ticks: { autoSkip: false, minRotation: 90, maxRotation: 90, crossAlign: "center", color: "#000", font: { size: 24.5 },
            padding: p.axisX - 17 - p.tickX - 17, callback: (v: number) => v.toFixed(1) } } } } };
};

export default function App() {
  return (
    <div style={{ position: "absolute", left: 0, top: 0, width: 2008, height: 1636, background: "#fff", overflow: "hidden" }}>
      <Plot left={266} top={36} width={787} height={142} config={colTreeConfig} />
      <Plot left={120} top={178.3} width={146} height={572} config={rowTreeConfig} />
      <Plot left={266} top={178.3} width={787} height={572} config={heatConfig} />
      <Plot left={1058} top={178} width={80} height={386} config={keyConfig} />
      <Plot left={1233.3} top={94.3} width={766.7} height={682.7} config={survivalConfig} />
      {panels.map((p, i) => (
        <Plot key={i} left={p.axisX - 90} top={p.top - 24} width={90 + (p.c2 + 62 - p.axisX)} height={24 + 520 + 70} config={barConfig(p)} />
      ))}

      <Txt x={41} y={32} size={60}>A</Txt>
      <Txt x={1173} y={32} size={60}>B</Txt>
      <Txt x={42} y={887} size={60}>C</Txt>
      <Txt x={265} y={24} size={25.6}>Cluster 1</Txt>
      <Txt x={641} y={23} size={25.6}>Cluster 2</Txt>

      <Txt x={1652} y={40} size={25.6} bold>Survival curve (p = 7.504e−04)</Txt>
      <Txt x={1205} y={406} size={28.3} rot={-90}>Survival ratio</Txt>
      <Txt x={1652} y={829} size={28.3}>Overall survival time(months)</Txt>
      <div style={{ position: "absolute", left: 1714, top: 136, width: 245, height: 75, border: "2px solid #000", background: "#fff" }} />
      <div style={{ position: "absolute", left: 1731, top: 160, width: 43, height: 3, background: "#000" }} />
      <div style={{ position: "absolute", left: 1731, top: 187, width: 43, height: 3, background: "#f00" }} />
      <Txt x={1790} y={162} size={20.6} left>{survivalLegend[0]}</Txt>
      <Txt x={1790} y={188} size={20.6} left>{survivalLegend[1]}</Txt>

      {panels.map((p, i) => (
        <React.Fragment key={i}>
          <Txt x={p.titleX} y={p.titleY} size={26.8} rot={-90}>Relative percent</Txt>
          <Txt x={p.legendTitleX} y={p.legendTitleY} size={22} left>{p.legendTitle}</Txt>
          {p.legend.map((l, j) => (
            <React.Fragment key={j}>
              <div style={{ position: "absolute", left: p.swatchX, top: l.swatchY - p.swatchH / 2, width: p.swatchW, height: p.swatchH, background: l.color }} />
              <Txt x={p.textX} y={l.textY} size={22} left>{l.name}</Txt>
            </React.Fragment>
          ))}
        </React.Fragment>
      ))}
    </div>
  );
}
